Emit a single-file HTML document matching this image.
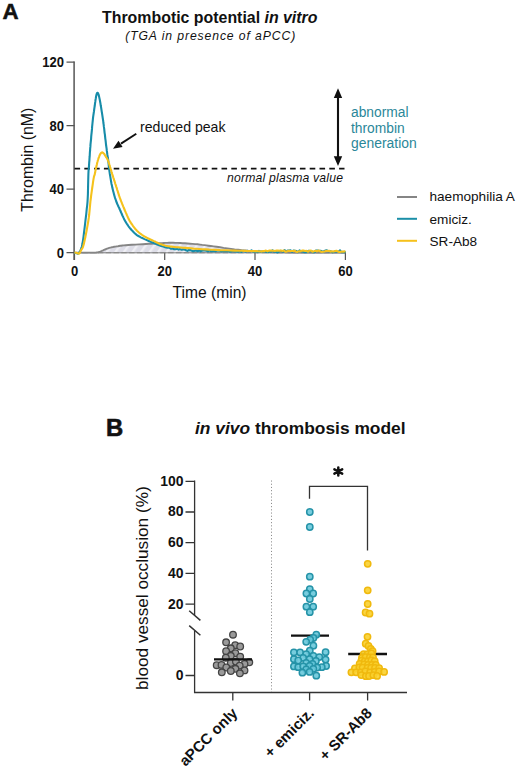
<!DOCTYPE html>
<html><head><meta charset="utf-8"><title>Figure</title>
<style>
html,body{margin:0;padding:0;background:#fff;}
svg{display:block;font-family:"Liberation Sans",sans-serif;}
text{fill:#111;}
.b{font-weight:bold;}
.i{font-style:italic;}
</style></head>
<body>
<svg width="520" height="770" viewBox="0 0 520 770">
<defs>
<pattern id="hatch" width="7" height="7" patternUnits="userSpaceOnUse" patternTransform="rotate(-55)">
<rect width="7" height="7" fill="#dddde7"/><rect width="7" height="2.4" fill="#f0f0f5"/>
</pattern>
</defs>
<rect width="520" height="770" fill="#fff"/>

<!-- Panel A -->
<text class="b" x="2.4" y="19" font-size="22.3" stroke="#111" stroke-width="0.5">A</text>
<text class="b" x="102" y="22.6" font-size="16.3" textLength="215.5" lengthAdjust="spacingAndGlyphs">Thrombotic potential <tspan class="i">in vitro</tspan></text>
<text class="i" x="125.2" y="40.3" font-size="12.2" textLength="170" lengthAdjust="spacing">(TGA in presence of aPCC)</text>

<!-- axes -->
<g stroke="#555" stroke-width="1.5" fill="none">
<path d="M74.1,61.6 V260"/>
<path stroke-width="1.3" d="M66.5,62.2 H74.5 M66.5,125.7 H74.5 M66.5,189.2 H74.5 M66.5,252.6 H345.5"/>
<path stroke-width="1.2" d="M74.5,252.6 V260 M164.7,252.6 V260 M255,252.6 V260 M345.4,252.6 V260"/>
</g>
<g class="b" font-size="14.5" text-anchor="end">
<text transform="translate(64,67.1) scale(.9,1)">120</text>
<text transform="translate(64,130.6) scale(.9,1)">80</text>
<text transform="translate(64,194.1) scale(.9,1)">40</text>
<text transform="translate(64,257.5) scale(.9,1)">0</text>
</g>
<g class="b" font-size="14.5" text-anchor="middle">
<text transform="translate(74.5,276.3) scale(.9,1)">0</text>
<text transform="translate(164.7,276.3) scale(.9,1)">20</text>
<text transform="translate(255,276.3) scale(.9,1)">40</text>
<text transform="translate(345.4,276.3) scale(.9,1)">60</text>
</g>
<text x="172.6" y="297.6" font-size="16.4" textLength="73.9" lengthAdjust="spacingAndGlyphs">Time (min)</text>
<text transform="translate(33.3,211.8) rotate(-90)" font-size="16.4" textLength="104.2" lengthAdjust="spacingAndGlyphs">Thrombin (nM)</text>

<!-- haemophilia -->
<path d="M74.5,252.6 L76.3,252.6 L78.9,252.6 L81.8,252.6 L84.9,252.6 L87.8,252.6 L90.0,252.6 L91.6,252.6 L93.0,252.6 L94.0,252.6 L94.9,252.6 L95.7,252.6 L96.5,252.5 L97.2,252.4 L97.7,252.4 L98.2,252.3 L98.6,252.1 L99.0,252.0 L99.6,251.8 L100.2,251.6 L100.9,251.3 L101.6,251.0 L102.3,250.6 L103.1,250.3 L104.0,249.9 L104.9,249.5 L105.9,249.1 L107.0,248.7 L108.1,248.3 L109.2,247.9 L110.4,247.6 L111.6,247.3 L112.8,247.1 L114.1,246.8 L115.4,246.6 L116.7,246.4 L118.0,246.2 L119.1,246.0 L120.1,245.8 L121.1,245.7 L122.3,245.5 L123.8,245.4 L125.8,245.2 L128.5,245.0 L131.8,244.8 L135.5,244.6 L139.3,244.4 L142.8,244.2 L146.0,244.0 L148.7,243.8 L151.2,243.7 L153.6,243.5 L155.8,243.4 L157.9,243.3 L160.0,243.2 L162.0,243.1 L163.8,243.0 L165.5,242.9 L167.2,242.9 L169.0,242.8 L171.0,242.8 L173.1,242.8 L175.4,242.9 L177.8,242.9 L180.1,243.0 L182.6,243.2 L185.0,243.3 L187.5,243.5 L190.0,243.7 L192.5,243.9 L195.1,244.1 L197.6,244.3 L200.0,244.6 L202.2,244.9 L204.3,245.1 L206.4,245.4 L208.5,245.7 L210.8,246.0 L213.5,246.4 L216.6,246.8 L220.0,247.3 L223.6,247.9 L227.3,248.4 L231.0,248.9 L234.6,249.4 L238.2,249.8 L241.7,250.2 L245.3,250.5 L248.9,250.9 L252.4,251.1 L255.8,251.4 L259.0,251.6 L262.1,251.8 L265.2,251.9 L268.2,252.0 L271.5,252.1 L275.0,252.2 L278.6,252.3 L282.1,252.4 L285.9,252.4 L289.9,252.5 L294.6,252.6 L300.0,252.6 L306.9,252.6 L315.3,252.6 L324.3,252.6 L332.9,252.6 L340.3,252.6 L345.5,252.6 L345.5,252.6 L74.5,252.6 Z" fill="url(#hatch)" stroke="none"/>
<path d="M74.5,252.6 H345.5" stroke="#8a8a8a" stroke-width="1.3" stroke-dasharray="5.4 2.4" fill="none"/>
<path d="M74.5,252.6 L76.3,252.6 L78.9,252.6 L81.8,252.6 L84.9,252.6 L87.8,252.6 L90.0,252.6 L91.6,252.6 L93.0,252.6 L94.0,252.6 L94.9,252.6 L95.7,252.6 L96.5,252.5 L97.2,252.4 L97.7,252.4 L98.2,252.3 L98.6,252.1 L99.0,252.0 L99.6,251.8 L100.2,251.6 L100.9,251.3 L101.6,251.0 L102.3,250.6 L103.1,250.3 L104.0,249.9 L104.9,249.5 L105.9,249.1 L107.0,248.7 L108.1,248.3 L109.2,247.9 L110.4,247.6 L111.6,247.3 L112.8,247.1 L114.1,246.8 L115.4,246.6 L116.7,246.4 L118.0,246.2 L119.1,246.0 L120.1,245.8 L121.1,245.7 L122.3,245.5 L123.8,245.4 L125.8,245.2 L128.5,245.0 L131.8,244.8 L135.5,244.6 L139.3,244.4 L142.8,244.2 L146.0,244.0 L148.7,243.8 L151.2,243.7 L153.6,243.5 L155.8,243.4 L157.9,243.3 L160.0,243.2 L162.0,243.1 L163.8,243.0 L165.5,242.9 L167.2,242.9 L169.0,242.8 L171.0,242.8 L173.1,242.8 L175.4,242.9 L177.8,242.9 L180.1,243.0 L182.6,243.2 L185.0,243.3 L187.5,243.5 L190.0,243.7 L192.5,243.9 L195.1,244.1 L197.6,244.3 L200.0,244.6 L202.2,244.9 L204.3,245.1 L206.4,245.4 L208.5,245.7 L210.8,246.0 L213.5,246.4 L216.6,246.8 L220.0,247.3 L223.6,247.9 L227.3,248.4 L231.0,248.9 L234.6,249.4 L238.2,249.8 L241.7,250.2 L245.3,250.5 L248.9,250.9 L252.4,251.1 L255.8,251.4 L259.0,251.6 L262.1,251.8 L265.2,251.9 L268.2,252.0 L271.5,252.1 L275.0,252.2 L278.6,252.3 L282.1,252.4 L285.9,252.4 L289.9,252.5 L294.6,252.6 L300.0,252.6 L306.9,252.6 L315.3,252.6 L324.3,252.6 L332.9,252.6 L340.3,252.6 L345.5,252.6" fill="none" stroke="#858585" stroke-width="1.9" stroke-linejoin="round"/>
<!-- normal plasma -->
<path d="M74.5,168.6 H344.5" stroke="#111" stroke-width="1.9" stroke-dasharray="5.6 4.2" fill="none"/>
<!-- emiciz -->
<path d="M74.5,252.6 L74.7,252.7 L75.0,252.8 L75.4,252.9 L75.8,253.0 L76.2,253.1 L76.5,253.2 L76.8,253.3 L77.1,253.4 L77.4,253.5 L77.7,253.6 L77.9,253.7 L78.2,253.6 L78.4,253.5 L78.7,253.2 L78.9,253.0 L79.1,252.7 L79.3,252.3 L79.5,252.0 L79.7,251.6 L79.9,251.3 L80.2,250.8 L80.4,250.4 L80.6,250.0 L80.8,249.5 L81.0,249.1 L81.2,248.8 L81.3,248.4 L81.5,248.0 L81.7,247.4 L81.9,246.5 L82.1,245.4 L82.4,244.1 L82.6,242.7 L82.9,241.1 L83.2,239.1 L83.5,236.9 L83.8,234.3 L84.2,231.2 L84.6,227.9 L85.0,224.5 L85.4,221.0 L85.8,217.7 L86.2,214.6 L86.5,211.5 L86.8,208.4 L87.2,205.3 L87.5,202.0 L87.7,198.5 L87.9,194.5 L88.0,190.1 L88.1,185.6 L88.2,181.1 L88.3,177.2 L88.4,174.0 L88.5,171.7 L88.6,170.2 L88.7,169.2 L88.8,168.3 L88.9,167.3 L89.0,165.9 L89.1,164.2 L89.2,162.3 L89.4,160.3 L89.5,158.2 L89.7,156.2 L89.8,154.2 L89.9,152.2 L90.1,150.3 L90.2,148.3 L90.4,146.4 L90.5,144.4 L90.7,142.5 L90.9,140.6 L91.1,138.6 L91.2,136.7 L91.4,134.7 L91.6,132.8 L91.8,130.8 L92.0,128.9 L92.1,126.9 L92.3,125.0 L92.5,123.0 L92.7,121.1 L92.9,119.1 L93.1,117.1 L93.4,115.2 L93.7,113.2 L94.0,111.2 L94.2,109.3 L94.5,107.4 L94.8,105.5 L95.0,103.6 L95.3,101.7 L95.5,100.0 L95.8,98.4 L96.0,97.0 L96.2,95.9 L96.5,94.9 L96.7,94.1 L96.9,93.4 L97.2,93.0 L97.4,92.8 L97.6,92.8 L97.9,92.9 L98.1,93.3 L98.3,93.8 L98.6,94.6 L98.9,95.7 L99.2,97.1 L99.6,98.9 L100.0,101.0 L100.4,103.2 L100.7,105.3 L101.1,107.4 L101.4,109.4 L101.7,111.3 L102.0,113.2 L102.3,115.2 L102.6,117.2 L102.9,119.1 L103.2,121.0 L103.4,123.0 L103.7,124.9 L103.9,126.9 L104.2,128.8 L104.4,130.8 L104.6,132.8 L104.9,134.7 L105.1,136.7 L105.3,138.6 L105.6,140.6 L105.8,142.5 L106.0,144.5 L106.3,146.6 L106.6,148.7 L106.8,150.7 L107.1,152.5 L107.3,154.2 L107.5,155.6 L107.7,156.8 L107.8,157.8 L108.0,158.8 L108.2,159.9 L108.3,161.0 L108.4,162.2 L108.6,163.5 L108.7,164.8 L108.8,166.2 L109.0,167.5 L109.1,168.7 L109.3,169.9 L109.4,171.0 L109.6,172.1 L109.7,173.2 L109.9,174.4 L110.1,175.5 L110.3,176.7 L110.5,177.9 L110.7,179.1 L110.9,180.3 L111.1,181.5 L111.3,182.7 L111.5,183.9 L111.8,185.1 L112.1,186.4 L112.3,187.6 L112.6,188.8 L112.9,190.0 L113.2,191.2 L113.5,192.3 L113.8,193.5 L114.1,194.6 L114.4,195.7 L114.7,196.8 L115.0,197.9 L115.4,198.9 L115.8,200.0 L116.1,201.0 L116.5,202.0 L116.9,203.0 L117.3,204.0 L117.7,204.9 L118.1,205.8 L118.5,206.7 L119.0,207.6 L119.4,208.5 L119.8,209.5 L120.3,210.5 L120.7,211.5 L121.1,212.5 L121.6,213.5 L122.0,214.5 L122.4,215.5 L122.9,216.4 L123.3,217.4 L123.8,218.4 L124.2,219.3 L124.7,220.2 L125.2,221.1 L125.7,221.9 L126.2,222.8 L126.7,223.6 L127.3,224.4 L127.8,225.2 L128.3,226.0 L128.8,226.7 L129.4,227.4 L129.9,228.1 L130.5,228.8 L131.1,229.5 L131.8,230.3 L132.6,231.1 L133.4,231.9 L134.2,232.8 L135.0,233.5 L135.8,234.2 L136.6,234.8 L137.3,235.3 L138.0,235.8 L138.8,236.2 L139.6,236.6 L140.4,237.1 L141.3,237.6 L142.2,238.0 L143.1,238.4 L144.0,238.9 L145.1,239.4 L146.3,239.9 L147.7,240.5 L149.3,241.2 L150.9,241.9 L152.6,242.5 L154.1,243.2 L155.4,243.7 L156.4,244.1 L157.2,244.5 L157.9,244.8 L158.5,245.0 L159.2,245.3 L160.0,245.6 L161.0,245.9 L162.1,246.3 L163.3,246.6 L164.4,246.9 L165.3,247.2 L166.0,247.4 L167.5,247.6 L169.2,247.7 L171.0,248.8 L172.7,248.4 L174.2,249.2 L175.7,249.1 L177.1,248.8 L178.6,249.6 L180.1,249.1 L181.6,249.7 L183.1,249.4 L184.5,249.5 L186.0,250.2 L187.5,250.9 L188.9,249.9 L190.4,250.1 L191.8,250.7 L193.3,251.2 L194.8,250.8 L196.2,250.6 L197.7,251.4 L199.1,250.2 L200.6,251.4 L202.0,250.6 L203.5,250.4 L205.0,250.4 L206.5,250.7 L208.0,251.4 L209.5,250.6 L211.0,251.2 L212.5,251.3 L214.0,250.9 L215.5,251.2 L217.0,250.5 L218.5,250.6 L220.0,250.8 L221.4,251.5 L222.9,251.1 L224.3,251.0 L225.7,251.3 L227.1,251.2 L228.6,251.0 L230.0,251.7 L231.4,251.5 L232.9,250.9 L234.3,251.4 L235.7,251.3 L237.1,251.8 L238.6,251.6 L240.0,251.0 L241.4,252.0 L242.9,250.8 L244.3,251.2 L245.7,251.7 L247.1,250.8 L248.6,251.3 L250.0,251.3 L251.5,250.3 L253.0,251.7 L254.5,251.9 L256.0,251.5 L257.5,252.1 L259.0,250.9 L260.5,251.7 L262.0,251.5 L263.5,251.5 L265.0,251.2 L266.5,252.0 L268.0,252.3 L269.5,251.2 L271.0,251.7 L272.5,250.3 L274.0,251.7 L275.5,251.6 L277.0,252.4 L278.5,252.0 L280.0,250.8 L281.5,251.0 L283.0,251.7 L284.5,250.2 L286.0,251.2 L287.5,250.6 L289.0,250.5 L290.5,250.3 L292.0,251.9 L293.5,250.5 L295.0,250.7 L296.5,251.1 L298.0,252.1 L299.5,250.4 L301.0,251.2 L302.5,251.4 L304.0,252.1 L305.5,252.0 L307.0,252.1 L308.5,250.8 L310.0,251.1 L311.5,251.0 L313.0,252.1 L314.5,252.3 L316.0,250.5 L317.5,250.6 L319.0,250.7 L320.5,250.7 L322.0,251.3 L323.5,251.5 L325.0,250.8 L326.5,250.2 L328.0,251.1 L329.5,251.0 L331.0,251.4 L332.5,252.3 L334.0,251.7 L335.5,251.3 L337.0,251.6 L338.5,251.7 L340.0,250.3 L341.5,252.2 L343.0,251.9 L344.5,252.1 L345.5,251.3" fill="none" stroke="#178ca9" stroke-width="2.1" stroke-linejoin="round"/>
<!-- SR-Ab8 -->
<path d="M74.5,252.6 L74.8,252.6 L75.2,252.7 L75.6,252.8 L76.1,252.8 L76.6,252.9 L77.0,253.0 L77.4,253.1 L77.7,253.2 L78.0,253.4 L78.3,253.5 L78.6,253.6 L78.8,253.6 L79.0,253.6 L79.1,253.6 L79.2,253.6 L79.3,253.5 L79.4,253.3 L79.6,253.0 L79.9,252.6 L80.2,252.0 L80.5,251.4 L80.8,250.7 L81.2,250.1 L81.5,249.5 L81.8,249.0 L82.0,248.7 L82.3,248.4 L82.5,248.0 L82.8,247.4 L83.1,246.5 L83.4,245.4 L83.8,244.1 L84.1,242.7 L84.5,241.1 L84.9,239.1 L85.4,236.9 L85.9,234.3 L86.5,231.2 L87.1,227.9 L87.7,224.5 L88.3,221.0 L88.8,217.7 L89.2,214.5 L89.5,211.3 L89.8,208.1 L90.1,204.9 L90.4,201.7 L90.8,198.5 L91.2,195.1 L91.7,191.6 L92.2,188.0 L92.7,184.6 L93.1,181.6 L93.5,179.2 L93.8,177.6 L94.0,176.5 L94.2,175.9 L94.4,175.4 L94.6,174.9 L94.8,174.0 L95.1,172.8 L95.3,171.4 L95.6,170.0 L95.9,168.5 L96.2,167.2 L96.5,165.9 L96.8,164.8 L97.0,163.8 L97.2,162.8 L97.5,161.8 L97.7,160.9 L98.0,160.0 L98.3,159.0 L98.6,158.0 L99.0,157.1 L99.3,156.1 L99.7,155.3 L100.0,154.6 L100.3,154.0 L100.7,153.5 L101.1,153.1 L101.4,152.7 L101.8,152.5 L102.1,152.4 L102.4,152.4 L102.8,152.6 L103.1,152.8 L103.4,153.1 L103.7,153.5 L104.0,153.8 L104.3,154.1 L104.5,154.5 L104.8,154.9 L105.0,155.4 L105.3,155.8 L105.6,156.3 L105.9,156.8 L106.3,157.4 L106.7,157.9 L107.0,158.5 L107.4,159.2 L107.7,159.8 L108.0,160.5 L108.2,161.1 L108.5,161.8 L108.7,162.5 L109.0,163.3 L109.2,164.0 L109.4,164.8 L109.7,165.5 L109.9,166.3 L110.1,167.1 L110.4,167.9 L110.6,168.7 L110.8,169.5 L111.1,170.2 L111.3,171.0 L111.5,171.8 L111.8,172.5 L112.0,173.3 L112.2,174.1 L112.5,174.9 L112.7,175.7 L113.0,176.5 L113.2,177.3 L113.5,178.1 L113.8,178.9 L114.0,179.7 L114.2,180.5 L114.5,181.2 L114.8,182.0 L115.0,182.8 L115.2,183.6 L115.5,184.3 L115.8,185.1 L116.0,185.9 L116.2,186.6 L116.5,187.4 L116.8,188.2 L117.0,189.0 L117.2,189.8 L117.5,190.6 L117.8,191.4 L118.0,192.2 L118.2,193.0 L118.5,193.7 L118.7,194.4 L118.9,195.2 L119.2,196.0 L119.5,196.8 L119.8,197.7 L120.2,198.7 L120.5,199.7 L120.9,200.7 L121.3,201.7 L121.7,202.7 L122.1,203.7 L122.5,204.6 L122.9,205.6 L123.3,206.6 L123.7,207.5 L124.1,208.5 L124.5,209.5 L124.9,210.5 L125.3,211.4 L125.7,212.4 L126.2,213.4 L126.6,214.4 L127.0,215.4 L127.5,216.4 L127.9,217.4 L128.4,218.3 L128.8,219.3 L129.3,220.2 L129.8,221.1 L130.3,221.9 L130.8,222.7 L131.3,223.5 L131.9,224.2 L132.4,225.0 L132.9,225.8 L133.5,226.6 L134.1,227.3 L134.7,228.1 L135.2,228.8 L135.8,229.5 L136.4,230.1 L136.9,230.7 L137.5,231.2 L138.1,231.7 L138.6,232.2 L139.2,232.7 L139.8,233.2 L140.4,233.7 L141.0,234.1 L141.6,234.5 L142.2,235.0 L142.8,235.4 L143.4,235.8 L144.1,236.2 L144.8,236.6 L145.4,237.0 L146.1,237.3 L146.8,237.7 L147.5,238.0 L148.2,238.4 L148.9,238.7 L149.6,239.0 L150.3,239.4 L151.0,239.7 L151.7,240.0 L152.5,240.4 L153.2,240.7 L154.0,241.1 L154.7,241.4 L155.5,241.8 L156.2,242.2 L156.9,242.5 L157.7,242.9 L158.4,243.2 L159.2,243.6 L160.0,243.9 L160.9,244.2 L161.9,244.6 L162.9,244.9 L163.9,245.2 L164.9,245.5 L166.0,245.8 L167.0,246.0 L168.0,246.2 L168.9,246.3 L170.0,246.5 L171.2,246.6 L172.7,246.8 L174.4,247.0 L176.3,247.2 L178.4,247.3 L180.6,247.5 L183.0,247.7 L185.4,247.9 L187.9,248.1 L190.6,248.3 L193.3,248.6 L196.2,248.8 L199.2,249.0 L202.3,249.2 L205.6,249.4 L209.1,249.6 L212.6,249.7 L216.3,249.9 L219.9,250.1 L223.5,250.2 L227.1,250.3 L230.8,250.5 L234.4,250.6 L238.0,250.7 L241.4,250.8 L244.6,250.9 L247.7,251.0 L250.7,251.0 L253.6,251.1 L256.2,251.1 L258.4,251.2 L260.0,251.2 L261.5,251.6 L263.0,251.0 L264.5,251.1 L266.0,250.6 L267.5,251.4 L269.0,250.6 L270.5,250.6 L272.0,250.8 L273.5,250.7 L275.0,251.0 L276.5,250.6 L278.0,250.5 L279.5,250.7 L281.0,250.6 L282.5,251.0 L284.0,250.5 L285.5,251.7 L287.0,251.4 L288.5,250.7 L290.0,250.9 L291.5,251.0 L293.0,251.0 L294.5,250.7 L296.0,251.7 L297.5,251.9 L299.0,251.2 L300.5,251.2 L302.0,250.6 L303.5,250.6 L305.0,251.0 L306.5,250.9 L308.0,251.7 L309.5,250.7 L311.0,250.5 L312.5,251.8 L314.0,251.2 L315.5,250.7 L317.0,251.3 L318.5,250.5 L320.0,251.2 L321.5,251.9 L323.0,251.7 L324.5,251.5 L326.0,250.9 L327.5,251.0 L329.0,250.7 L330.5,251.6 L332.0,251.2 L333.5,251.6 L335.0,251.0 L336.5,250.8 L338.0,251.6 L339.5,251.9 L341.0,251.7 L342.5,251.6 L344.0,251.6 L345.5,251.2" fill="none" stroke="#f5c21c" stroke-width="2.1" stroke-linejoin="round"/>

<!-- reduced peak arrow -->
<path d="M136.3,133.7 L121,143.6" stroke="#111" stroke-width="1.9" fill="none"/>
<path d="M113,148.8 L118.5,140.7 L122.6,147.0 Z" fill="#111"/>
<text x="140" y="131.9" font-size="13.9" textLength="85.5" lengthAdjust="spacingAndGlyphs">reduced peak</text>

<!-- double arrow -->
<path d="M338,96 V158" stroke="#111" stroke-width="2.1"/>
<path d="M338,88.2 L342.2,97.9 H333.8 Z M338,166 L342.2,156.3 H333.8 Z" fill="#111"/>
<g font-size="13.8" style="fill:#2a8799">
<text x="351" y="116.8" style="fill:#2a8799">abnormal</text>
<text x="351" y="132.7" style="fill:#2a8799">thrombin</text>
<text x="351" y="148.4" style="fill:#2a8799" textLength="65.7" lengthAdjust="spacingAndGlyphs">generation</text>
</g>
<text class="i" x="227" y="182.2" font-size="12.2" textLength="116" lengthAdjust="spacing">normal plasma value</text>

<!-- legend -->
<g stroke-width="2" fill="none">
<path d="M397,197 H417" stroke="#858585"/>
<path d="M397,218.8 H417" stroke="#1b8fa8"/>
<path d="M397,240.8 H417" stroke="#f6c11c"/>
</g>
<g font-size="13.6">
<text x="429.5" y="201.3">haemophilia A</text>
<text x="429.5" y="223.6">emiciz.</text>
<text x="429.5" y="245.5">SR-Ab8</text>
</g>

<!-- Panel B -->
<text class="b" x="105.9" y="435.6" font-size="23.8" stroke="#111" stroke-width="0.6">B</text>
<text class="b" x="195" y="434" font-size="17.3" textLength="210.6" lengthAdjust="spacingAndGlyphs"><tspan class="i">in vivo</tspan> thrombosis model</text>

<g stroke="#333" stroke-width="1.3" fill="none">
<path d="M194.6,480.6 V615.6 M194.6,630.4 V692.5 H407"/>
<path d="M185.5,481.3 H194.5 M185.5,512 H194.5 M185.5,542.7 H194.5 M185.5,573.4 H194.5 M185.5,604.2 H194.5 M185.5,675.5 H194.5"/>
<path d="M189.2,610.8 L200.4,620.4 M189.2,625.6 L200.4,635.2" stroke-width="1.5"/>
<path d="M232.8,692 V700.6 M309.6,692 V700.6 M367.6,692 V700.6"/>
<path d="M309.5,498.8 V486.3 H367.5 V550.5"/>
</g>
<path d="M271.5,480.5 V692" stroke="#8c8c8c" stroke-width="1" stroke-dasharray="1.1 2.1" fill="none"/>
<g class="b" font-size="15" text-anchor="end">
<text transform="translate(183.4,485.6) scale(.93,1)">100</text>
<text transform="translate(183.4,516.3) scale(.93,1)">80</text>
<text transform="translate(183.4,547.0) scale(.93,1)">60</text>
<text transform="translate(183.4,577.7) scale(.93,1)">40</text>
<text transform="translate(183.4,608.5) scale(.93,1)">20</text>
<text transform="translate(183.4,679.8) scale(.93,1)">0</text>
</g>
<text transform="translate(148.4,690) rotate(-90)" font-size="16.5" textLength="203.7" lengthAdjust="spacingAndGlyphs">blood vessel occlusion (%)</text>

<!-- asterisk -->
<g stroke="#111" stroke-width="2.5" stroke-linecap="round" fill="none">
<path d="M338.3,467.6 V475.4 M334.4,469.4 L342.2,473.6 M342.2,469.4 L334.4,473.6"/>
</g>

<!-- dots -->
<g fill="#9a9a9a" fill-opacity="1" stroke="#444" stroke-width="1.3">
<circle cx="233.0" cy="634.7" r="3.3"/>
<circle cx="226.1" cy="642.3" r="3.3"/>
<circle cx="235.2" cy="645.2" r="3.3"/>
<circle cx="240.2" cy="646.5" r="3.3"/>
<circle cx="230.8" cy="648.3" r="3.3"/>
<circle cx="226.1" cy="651.2" r="3.3"/>
<circle cx="235.4" cy="653.2" r="3.3"/>
<circle cx="230.8" cy="655.8" r="3.3"/>
<circle cx="240.2" cy="656.6" r="3.3"/>
<circle cx="225.8" cy="657.7" r="3.3"/>
<circle cx="230.8" cy="663.0" r="3.3"/>
<circle cx="235.9" cy="661.6" r="3.3"/>
<circle cx="249.3" cy="662.3" r="3.3"/>
<circle cx="244.5" cy="664.0" r="3.3"/>
<circle cx="216.7" cy="665.2" r="3.3"/>
<circle cx="221.5" cy="664.9" r="3.3"/>
<circle cx="239.7" cy="665.6" r="3.3"/>
<circle cx="226.3" cy="667.5" r="3.3"/>
<circle cx="235.4" cy="668.8" r="3.3"/>
<circle cx="230.8" cy="671.0" r="3.3"/>
<circle cx="244.5" cy="670.4" r="3.3"/>
<circle cx="221.8" cy="672.3" r="3.3"/>
<circle cx="239.9" cy="673.3" r="3.3"/>
</g>
<g stroke="#111" stroke-width="2.3" fill="none">
<path d="M214,659.4 H252"/>
<path d="M291,635.7 H329"/>
<path d="M348.2,654 H387"/>
</g>
<g fill="#68c8da" fill-opacity="0.9" stroke="#2593a8" stroke-width="1.5">
<circle cx="309.8" cy="512" r="3.15"/>
<circle cx="309.8" cy="527" r="3.15"/>
<circle cx="309.8" cy="576.7" r="3.15"/>
<circle cx="309.8" cy="589.1" r="3.15"/>
<circle cx="306.4" cy="593.5" r="3.15"/>
<circle cx="313.2" cy="593.5" r="3.15"/>
<circle cx="309.8" cy="599" r="3.15"/>
<circle cx="306.4" cy="606.7" r="3.15"/>
<circle cx="313.2" cy="606.7" r="3.15"/>
<circle cx="309.8" cy="612.2" r="3.15"/>
<circle cx="316.3" cy="634.7" r="3.15"/>
<circle cx="313.4" cy="638.0" r="3.15"/>
<circle cx="310.2" cy="639.7" r="3.15"/>
<circle cx="306.2" cy="641.8" r="3.15"/>
<circle cx="313.4" cy="645.7" r="3.15"/>
<circle cx="309.8" cy="650.7" r="3.15"/>
<circle cx="293.9" cy="652.4" r="3.15"/>
<circle cx="300.1" cy="652.4" r="3.15"/>
<circle cx="325.6" cy="652.2" r="3.15"/>
<circle cx="306.2" cy="654.1" r="3.15"/>
<circle cx="313.4" cy="655.8" r="3.15"/>
<circle cx="319.3" cy="657.1" r="3.15"/>
<circle cx="303.2" cy="657.9" r="3.15"/>
<circle cx="293.9" cy="659.2" r="3.15"/>
<circle cx="325.6" cy="659.6" r="3.15"/>
<circle cx="309.6" cy="659.2" r="3.15"/>
<circle cx="298.2" cy="660.5" r="3.15"/>
<circle cx="315.9" cy="660.9" r="3.15"/>
<circle cx="306.2" cy="663.0" r="3.15"/>
<circle cx="312.5" cy="663.8" r="3.15"/>
<circle cx="293.9" cy="666.4" r="3.15"/>
<circle cx="326.1" cy="666.0" r="3.15"/>
<circle cx="309.6" cy="666.0" r="3.15"/>
<circle cx="298.2" cy="667.2" r="3.15"/>
<circle cx="303.2" cy="666.4" r="3.15"/>
<circle cx="321.8" cy="667.2" r="3.15"/>
<circle cx="317.2" cy="667.6" r="3.15"/>
<circle cx="313.4" cy="668.9" r="3.15"/>
<circle cx="306.2" cy="669.3" r="3.15"/>
<circle cx="302.4" cy="672.7" r="3.15"/>
<circle cx="309.6" cy="671.9" r="3.15"/>
<circle cx="316.3" cy="675.7" r="3.15"/>
</g>
<g fill="#f9d02e" fill-opacity="0.9" stroke="#f0b90e" stroke-width="1.5">
<circle cx="367.7" cy="563.8" r="3.15"/>
<circle cx="367.7" cy="590.3" r="3.15"/>
<circle cx="367.7" cy="604" r="3.15"/>
<circle cx="365.6" cy="612.5" r="3.15"/>
<circle cx="369.5" cy="613.7" r="3.15"/>
<circle cx="367.5" cy="636.8" r="3.15"/>
<circle cx="365.7" cy="643.7" r="3.15"/>
<circle cx="368.5" cy="646" r="3.15"/>
<circle cx="370.8" cy="648.8" r="3.15"/>
<circle cx="372.6" cy="651.1" r="3.15"/>
<circle cx="363.7" cy="654.1" r="3.15"/>
<circle cx="367.6" cy="654.1" r="3.15"/>
<circle cx="371.4" cy="653.5" r="3.15"/>
<circle cx="361.9" cy="657.9" r="3.15"/>
<circle cx="365.6" cy="657.2" r="3.15"/>
<circle cx="369.8" cy="657.5" r="3.15"/>
<circle cx="373.0" cy="657.5" r="3.15"/>
<circle cx="361.4" cy="660.6" r="3.15"/>
<circle cx="364.7" cy="661.4" r="3.15"/>
<circle cx="367.9" cy="661.3" r="3.15"/>
<circle cx="371.4" cy="660.5" r="3.15"/>
<circle cx="374.7" cy="661.1" r="3.15"/>
<circle cx="359.6" cy="663.9" r="3.15"/>
<circle cx="364.2" cy="664.5" r="3.15"/>
<circle cx="368.0" cy="665.0" r="3.15"/>
<circle cx="372.0" cy="665.0" r="3.15"/>
<circle cx="375.8" cy="664.9" r="3.15"/>
<circle cx="354.9" cy="668.5" r="3.15"/>
<circle cx="359.4" cy="667.5" r="3.15"/>
<circle cx="362.6" cy="667.7" r="3.15"/>
<circle cx="367.5" cy="667.9" r="3.15"/>
<circle cx="371.1" cy="667.8" r="3.15"/>
<circle cx="375.0" cy="667.9" r="3.15"/>
<circle cx="379.1" cy="668.1" r="3.15"/>
<circle cx="351.4" cy="672.3" r="3.15"/>
<circle cx="356.1" cy="672.3" r="3.15"/>
<circle cx="360.9" cy="672.4" r="3.15"/>
<circle cx="365.3" cy="671.4" r="3.15"/>
<circle cx="370.1" cy="672.4" r="3.15"/>
<circle cx="374.7" cy="671.9" r="3.15"/>
<circle cx="379.1" cy="671.5" r="3.15"/>
<circle cx="384.1" cy="671.9" r="3.15"/>
<circle cx="361.3" cy="675.1" r="3.15"/>
<circle cx="365.9" cy="676.2" r="3.15"/>
<circle cx="369.0" cy="676.0" r="3.15"/>
<circle cx="373.3" cy="675.2" r="3.15"/>
<circle cx="377.1" cy="675.9" r="3.15"/>
</g>

<g class="b" font-size="15" text-anchor="end">
<text transform="translate(238.5,714) rotate(-45)">aPCC only</text>
<text transform="translate(315,714) rotate(-45)">+ emiciz.</text>
<text transform="translate(373,714) rotate(-45)">+ SR-Ab8</text>
</g>
</svg>
</body></html>
